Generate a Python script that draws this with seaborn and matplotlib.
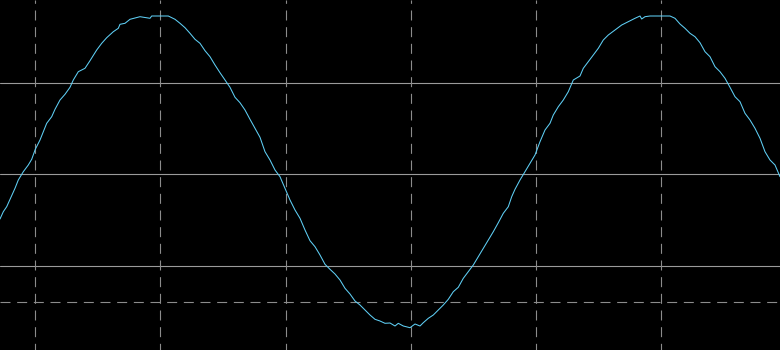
import matplotlib
matplotlib.use("Agg")
import matplotlib.pyplot as plt
import seaborn as sns
import pandas as pd

# Signal trace (x = sample position, y = screen level, 0 at top)
sample_x = [0, 3.3, 6.7, 10, 15, 18.3, 23.3, 28.3, 31.7, 35.3, 40, 43.3, 46.7, 51.7, 55, 60, 65, 70,
            73.3, 78.3, 85, 90, 96.7, 101.7, 106.7, 113.3, 118.3, 120, 125, 130, 140, 150, 151.7,
            168.3, 175, 180, 185, 190, 195, 200, 205, 210, 215, 220, 225, 230, 235, 240, 245, 250,
            255, 260, 265, 270, 275, 280, 285, 290, 295, 300, 305, 310, 315, 320, 325, 330, 335,
            340, 345, 350, 355, 360, 365, 370, 375, 380, 385, 390, 395, 398.3, 403.3, 410, 415,
            420, 423.3, 428.3, 433.3, 438.3, 443.3, 448.3, 453.3, 458.3, 463.3, 468.3, 473.3,
            478.3, 483.3, 488.3, 493.3, 498.3, 503.3, 508.3, 511.7, 515, 520, 525, 530, 535, 540,
            545, 550, 553.3, 558.3, 563.3, 568.3, 573.3, 580, 583.3, 588.3, 593.3, 598.3, 603.3,
            608.3, 615, 621.7, 628.3, 635, 640, 641.7, 645, 650, 670, 675, 680, 685, 690, 695,
            700, 705, 710, 715, 720, 725, 730, 735, 740, 745, 750, 755, 760, 765, 770, 775, 780]
sample_y = [219, 211.7, 206.7, 199.3, 188.3, 180, 171.7, 165, 159.3, 149.3, 140, 131.7, 123.3, 116.7,
            109.3, 100, 94.3, 87.3, 80, 71.7, 68.3, 60.7, 50, 43.3, 37.7, 31.7, 28.3, 24.3, 23.3,
            19.3, 16.7, 18.3, 16, 16, 19.3, 23.3, 27.7, 33.3, 39.3, 43.3, 50.7, 56.7, 65, 72.7, 80,
            87.3, 97.3, 102.7, 110, 119.3, 128.3, 137.3, 151.7, 160, 170, 176.7, 188.3, 200, 210,
            218.3, 230, 240.7, 246.7, 255, 264.3, 269.3, 274, 280, 288.3, 294, 301, 305, 310, 315,
            319.3, 321, 323.3, 323, 326, 323.3, 326, 327.7, 324, 326, 322.7, 318.3, 315, 310, 305,
            299.3, 291.7, 287.3, 278.3, 271.7, 265, 256.7, 248.3, 240, 231.7, 222.7, 213.3, 206.7,
            196.7, 189.3, 180, 171.7, 163.3, 155, 141.7, 130, 123.3, 115, 106.7, 100, 91.7, 80, 76,
            68.3, 61.7, 55, 48.3, 40, 35, 30, 25, 21.7, 18.3, 16, 19, 16.7, 16, 16, 18.3, 24, 28.3,
            33.3, 36.7, 42.7, 51.7, 56.7, 66.7, 71.7, 78.3, 87.3, 96.7, 101.7, 113.3, 120, 128.3,
            138.3, 151.7, 160, 165, 176.7]

# Graticule positions
solid_levels = [83.3, 174.3, 266.3]
dashed_levels = [302.3]
dashed_columns = [35.3, 160.3, 285.8, 411, 536, 661]

sns.set_style("dark", {"axes.facecolor": "black", "figure.facecolor": "black"})

fig = plt.figure(figsize=(7.8, 3.5), dpi=100)
ax = fig.add_axes([0, 0, 1, 1])
ax.set_facecolor("black")

grid_color = "#8c8c8c"
for yv in solid_levels:
    ax.axhline(yv, color="#9a9a9a", lw=0.8, zorder=1)
for yv in dashed_levels:
    ax.axhline(yv, color=grid_color, lw=0.8, ls=(0, (9, 6)), zorder=1)
for xv in dashed_columns:
    ax.axvline(xv, color=grid_color, lw=0.8, ls=(3, (9, 6)), zorder=1)

df = pd.DataFrame({"x": sample_x, "y": sample_y})
sns.lineplot(data=df, x="x", y="y", ax=ax, color="#5fcff5", lw=0.75, zorder=3,
             estimator=None, sort=False)

ax.set_xlim(0, 780)
ax.set_ylim(350, 0)
ax.set_xlabel("")
ax.set_ylabel("")
ax.set_xticks([])
ax.set_yticks([])
ax.grid(False)
for s in ax.spines.values():
    s.set_visible(False)

fig.savefig("out.png", dpi=100, facecolor="black")
